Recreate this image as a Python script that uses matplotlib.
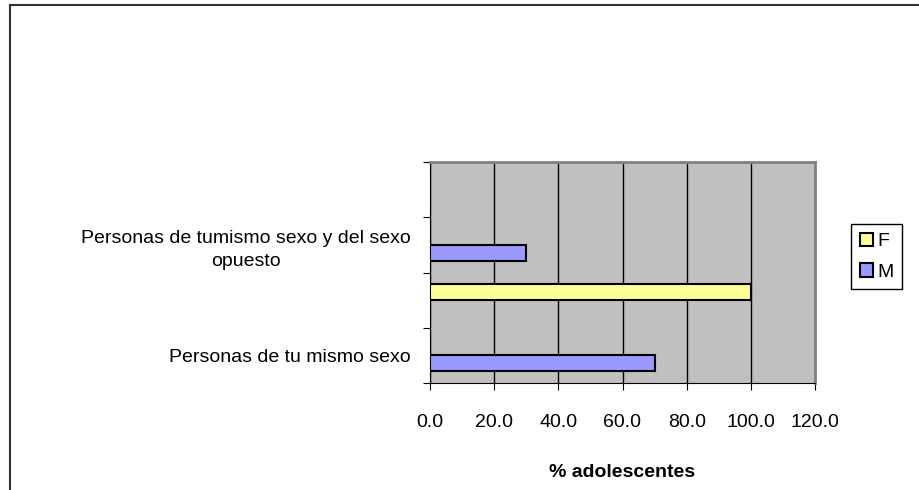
import matplotlib.pyplot as plt
from matplotlib.patches import Patch
from matplotlib.lines import Line2D
import numpy as np

plt.rcParams['font.family'] = ['Liberation Sans', 'DejaVu Sans']

######################## data ##############################

categories = ['Personas de tu mismo sexo', '', 'Personas de tumismo sexo y del sexo\nopuesto', '']
values_F = [0, 100, 0, 0]
values_M = [70, 0, 30, 0]
xticks = [0, 20, 40, 60, 80, 100, 120]

######################## bar plot ##############################

fig = plt.figure(figsize=(9.2, 4.9), dpi=100)
ax = fig.add_axes([430/920, 1-383/490, 385/920, 221/490])
ax.set_facecolor('#C0C0C0')

y = np.arange(len(categories))
h = 0.286
ax.barh(y + h/2, values_F, height=h, color='#FFFF99', edgecolor='black', linewidth=1.5, zorder=3)
ax.barh(y - h/2, values_M, height=h, color='#9999FF', edgecolor='black', linewidth=1.5, zorder=3)

ax.set_xlim(0, 120)
ax.set_xticks(xticks)
ax.set_xticklabels(['%.1f' % v for v in xticks], fontsize=14)
ax.xaxis.grid(True, color='black', linewidth=1, zorder=1)
ax.tick_params(axis='x', length=5, pad=17, color='black')

ax.set_ylim(-0.5, len(categories) - 0.5)
ax.set_yticks(np.arange(len(categories) + 1) - 0.5)
ax.set_yticklabels([])
ax.set_yticks(y, minor=True)
ax.set_yticklabels(categories, minor=True, fontsize=14)
for lab in ax.get_yticklabels(minor=True):
    lab.set_multialignment('center')
    lab.set_linespacing(1.5)
ax.tick_params(axis='y', which='major', length=5)
ax.tick_params(axis='y', which='minor', length=0, pad=14)

ax.spines['left'].set_color('black')
ax.spines['bottom'].set_color('black')
ax.spines['top'].set_color('#808080')
ax.spines['right'].set_color('#808080')
ax.spines['top'].set_linewidth(2)
ax.spines['right'].set_linewidth(2)

ax.set_xlabel('% adolescentes', fontsize=14, fontweight='bold', labelpad=24)

handles = [Patch(facecolor='#FFFF99', edgecolor='black', linewidth=1.5, label='F'),
           Patch(facecolor='#9999FF', edgecolor='black', linewidth=1.5, label='M')]
leg = fig.legend(handles=handles, loc='upper left', bbox_to_anchor=(851/920, 1-224/490),
                 fontsize=14, fancybox=False, framealpha=1, edgecolor='black',
                 handlelength=0.7, handleheight=0.7, handletextpad=0.2,
                 borderpad=0.45, labelspacing=0.65, borderaxespad=0)
leg.get_frame().set_linewidth(1)

# outer chart border (right and bottom edges fall outside the picture)
fig.add_artist(Line2D([10/920, 10/920], [0, 1-5/490], color='#333333', linewidth=1.5))
fig.add_artist(Line2D([10/920, 1], [1-5/490, 1-5/490], color='#333333', linewidth=1.5))

fig.savefig('out.png')
